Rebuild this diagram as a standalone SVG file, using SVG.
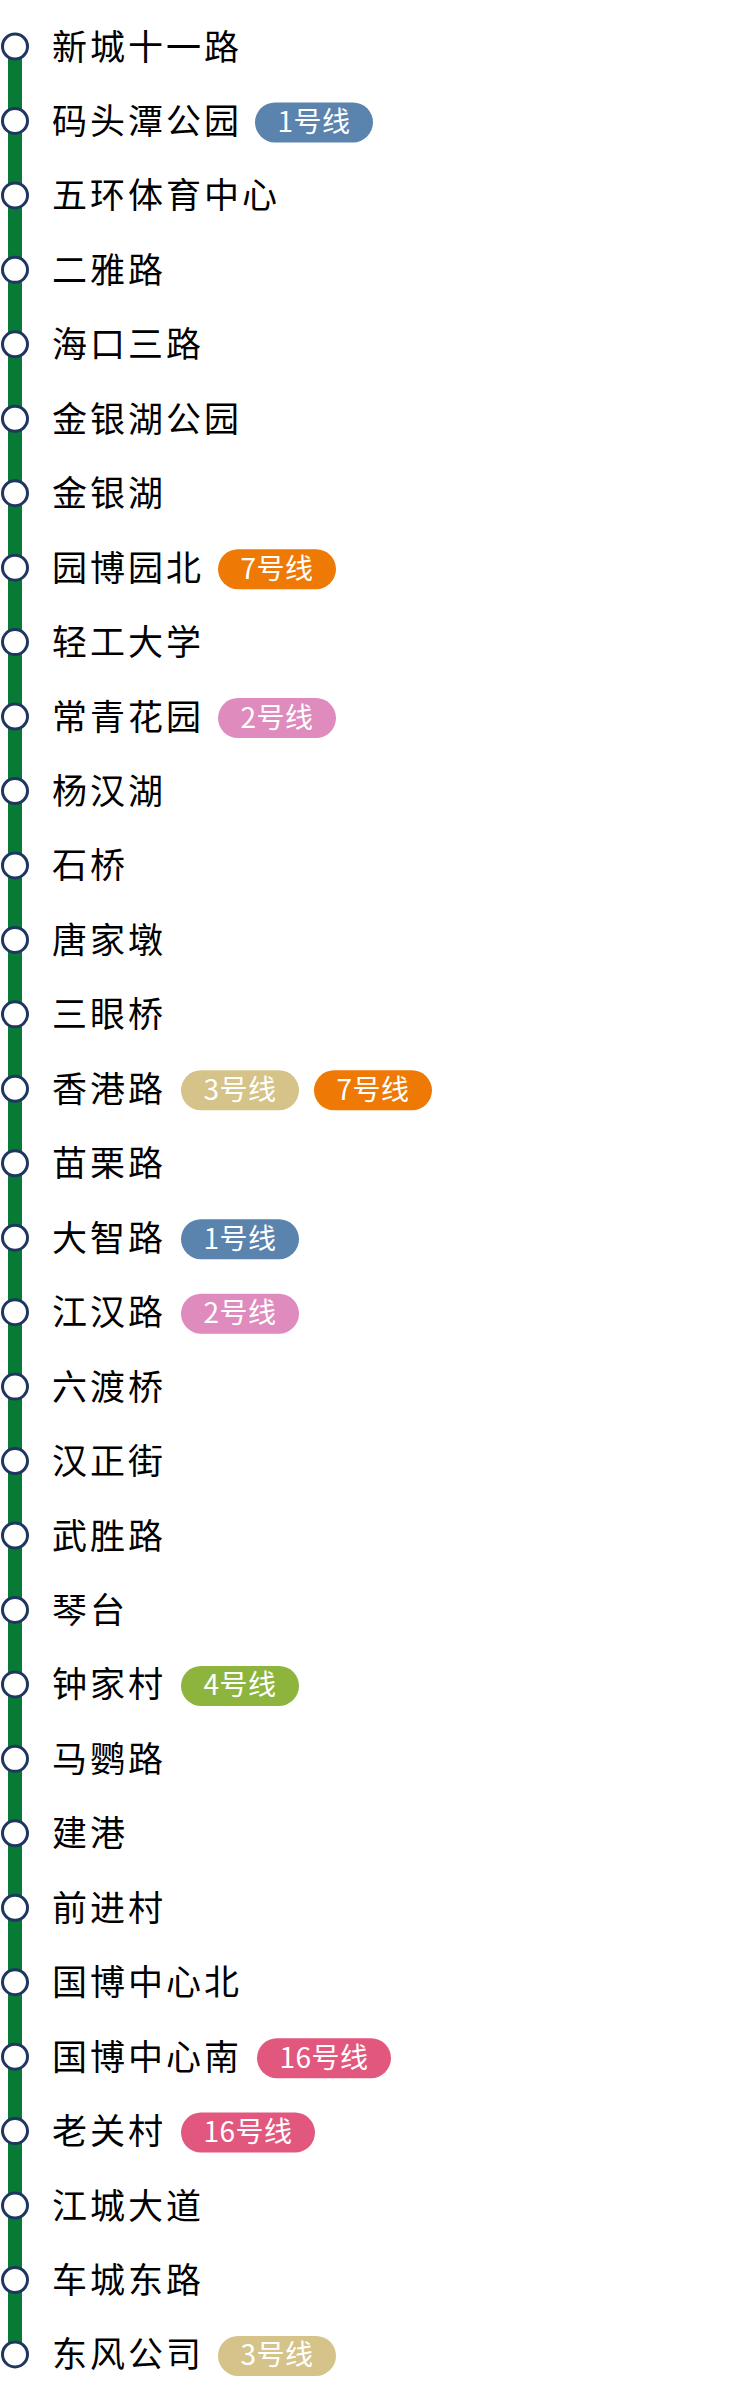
<svg xmlns="http://www.w3.org/2000/svg" width="748" height="2393" viewBox="0 0 748 2393">
<style>
.st{fill:#000;font-family:"Noto Sans CJK SC","Noto Sans",sans-serif;font-size:35px;letter-spacing:3px}
.pt{fill:#fff;font-family:"Noto Sans CJK SC","Noto Sans",sans-serif;font-size:28px;text-anchor:middle;letter-spacing:0.5px}
.dot{fill:#fff;stroke:#1e3660;stroke-width:3}
.l1{fill:#5a83ad}.l2{fill:#df8bbd}.l3{fill:#d5c38a}.l4{fill:#8db53e}.l7{fill:#ee7a05}.l16{fill:#e2577d}
</style>
<defs>
<circle id="c" class="dot" cx="15" cy="0" r="12.5"/>
</defs>
<g id="connectors">
<line x1="15" y1="46.5" x2="15" y2="2354.45" stroke="#077a35" stroke-width="14"/>
</g>
<g id="s0" transform="translate(0,46.5)"><use href="#c"/><text class="st" x="52" y="13">新城十一路</text></g>
<g id="s1" transform="translate(0,120.95)"><use href="#c"/><text class="st" x="52" y="13">码头潭公园</text><rect class="l1" x="255" y="-18.5" width="118" height="40" rx="20"/><text class="pt" x="314" y="11">1号线</text></g>
<g id="s2" transform="translate(0,195.4)"><use href="#c"/><text class="st" x="52" y="13">五环体育中心</text></g>
<g id="s3" transform="translate(0,269.85)"><use href="#c"/><text class="st" x="52" y="13">二雅路</text></g>
<g id="s4" transform="translate(0,344.3)"><use href="#c"/><text class="st" x="52" y="13">海口三路</text></g>
<g id="s5" transform="translate(0,418.75)"><use href="#c"/><text class="st" x="52" y="13">金银湖公园</text></g>
<g id="s6" transform="translate(0,493.2)"><use href="#c"/><text class="st" x="52" y="13">金银湖</text></g>
<g id="s7" transform="translate(0,567.65)"><use href="#c"/><text class="st" x="52" y="13">园博园北</text><rect class="l7" x="218" y="-18.5" width="118" height="40" rx="20"/><text class="pt" x="277" y="11">7号线</text></g>
<g id="s8" transform="translate(0,642.1)"><use href="#c"/><text class="st" x="52" y="13">轻工大学</text></g>
<g id="s9" transform="translate(0,716.55)"><use href="#c"/><text class="st" x="52" y="13">常青花园</text><rect class="l2" x="218" y="-18.5" width="118" height="40" rx="20"/><text class="pt" x="277" y="11">2号线</text></g>
<g id="s10" transform="translate(0,791)"><use href="#c"/><text class="st" x="52" y="13">杨汉湖</text></g>
<g id="s11" transform="translate(0,865.45)"><use href="#c"/><text class="st" x="52" y="13">石桥</text></g>
<g id="s12" transform="translate(0,939.9)"><use href="#c"/><text class="st" x="52" y="13">唐家墩</text></g>
<g id="s13" transform="translate(0,1014.35)"><use href="#c"/><text class="st" x="52" y="13">三眼桥</text></g>
<g id="s14" transform="translate(0,1088.8)"><use href="#c"/><text class="st" x="52" y="13">香港路</text><rect class="l3" x="181" y="-18.5" width="118" height="40" rx="20"/><text class="pt" x="240" y="11">3号线</text><rect class="l7" x="314" y="-18.5" width="118" height="40" rx="20"/><text class="pt" x="373" y="11">7号线</text></g>
<g id="s15" transform="translate(0,1163.25)"><use href="#c"/><text class="st" x="52" y="13">苗栗路</text></g>
<g id="s16" transform="translate(0,1237.7)"><use href="#c"/><text class="st" x="52" y="13">大智路</text><rect class="l1" x="181" y="-18.5" width="118" height="40" rx="20"/><text class="pt" x="240" y="11">1号线</text></g>
<g id="s17" transform="translate(0,1312.15)"><use href="#c"/><text class="st" x="52" y="13">江汉路</text><rect class="l2" x="181" y="-18.5" width="118" height="40" rx="20"/><text class="pt" x="240" y="11">2号线</text></g>
<g id="s18" transform="translate(0,1386.6)"><use href="#c"/><text class="st" x="52" y="13">六渡桥</text></g>
<g id="s19" transform="translate(0,1461.05)"><use href="#c"/><text class="st" x="52" y="13">汉正街</text></g>
<g id="s20" transform="translate(0,1535.5)"><use href="#c"/><text class="st" x="52" y="13">武胜路</text></g>
<g id="s21" transform="translate(0,1609.95)"><use href="#c"/><text class="st" x="52" y="13">琴台</text></g>
<g id="s22" transform="translate(0,1684.4)"><use href="#c"/><text class="st" x="52" y="13">钟家村</text><rect class="l4" x="181" y="-18.5" width="118" height="40" rx="20"/><text class="pt" x="240" y="11">4号线</text></g>
<g id="s23" transform="translate(0,1758.85)"><use href="#c"/><text class="st" x="52" y="13">马鹦路</text></g>
<g id="s24" transform="translate(0,1833.3)"><use href="#c"/><text class="st" x="52" y="13">建港</text></g>
<g id="s25" transform="translate(0,1907.75)"><use href="#c"/><text class="st" x="52" y="13">前进村</text></g>
<g id="s26" transform="translate(0,1982.2)"><use href="#c"/><text class="st" x="52" y="13">国博中心北</text></g>
<g id="s27" transform="translate(0,2056.65)"><use href="#c"/><text class="st" x="52" y="13">国博中心南</text><rect class="l16" x="257" y="-18.5" width="134" height="40" rx="20"/><text class="pt" x="324" y="11">16号线</text></g>
<g id="s28" transform="translate(0,2131.1)"><use href="#c"/><text class="st" x="52" y="13">老关村</text><rect class="l16" x="181" y="-18.5" width="134" height="40" rx="20"/><text class="pt" x="248" y="11">16号线</text></g>
<g id="s29" transform="translate(0,2205.55)"><use href="#c"/><text class="st" x="52" y="13">江城大道</text></g>
<g id="s30" transform="translate(0,2280)"><use href="#c"/><text class="st" x="52" y="13">车城东路</text></g>
<g id="s31" transform="translate(0,2354.45)"><use href="#c"/><text class="st" x="52" y="13">东风公司</text><rect class="l3" x="218" y="-18.5" width="118" height="40" rx="20"/><text class="pt" x="277" y="11">3号线</text></g>
</svg>
